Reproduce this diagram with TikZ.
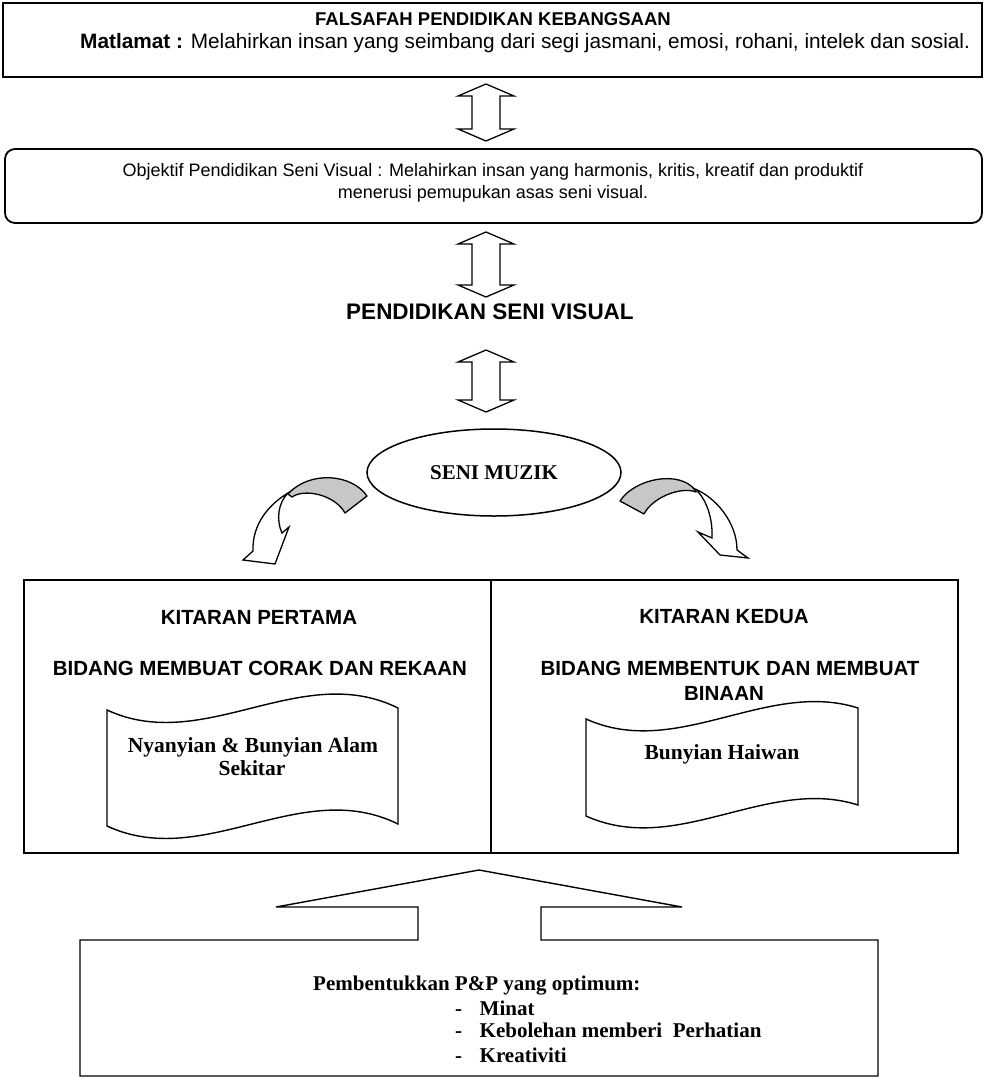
\documentclass[tikz,border=0pt]{standalone}
\usepackage{fontspec}
\setmainfont{Liberation Serif}
\newfontfamily\arialfont{Liberation Sans}
\usetikzlibrary{shapes.geometric,calc}

\tikzset{
    boxFrame/.style={draw=black, line width=1.8pt},
    waveLine/.style={draw=black, line width=1.4pt},
    dblArrow/.style={draw=black, line width=1.3pt, fill=white, line join=miter},
    bandBack/.style={draw=black, line width=1.3pt, fill=black!22, line join=round},
    bandFront/.style={draw=black, line width=1.3pt, fill=white, line join=miter},
    sansBold/.style={font=\arialfont\bfseries\fontsize{#1}{24}\selectfont, inner sep=0pt},
    sansPlain/.style={font=\arialfont\fontsize{#1}{22}\selectfont, inner sep=0pt},
    serifBold/.style={font=\bfseries\fontsize{#1}{23}\selectfont, inner sep=0pt}
}

\begin{document}
\begin{tikzpicture}[x=1pt, y=-1pt]
\useasboundingbox (0,0) rectangle (986,1079);

% falsafah box
\node[boxFrame, minimum width=979pt, minimum height=74pt] (fpk) at (492.5,40) {};
\node[sansBold=18.5] (fpkTitle) at (493,19) {FALSAFAH PENDIDIKAN KEBANGSAAN};
\node[sansPlain=20.8, anchor=base west] (fpkAim) at (80,48) {\textbf{Matlamat :} Melahirkan insan yang seimbang dari segi jasmani, emosi, rohani, intelek dan sosial.};

% objektif box
\node[boxFrame, rounded corners=10pt, minimum width=977pt, minimum height=74pt] (obj) at (493.5,186) {};
\node[sansPlain=18, align=center] (objText) at (493,183) {Objektif Pendidikan Seni Visual : Melahirkan insan yang harmonis, kritis, kreatif dan produktif\\ menerusi pemupukan asas seni visual.};

% double block arrows
\foreach \ya/\yb in {84/141, 232/297, 350/412}{
  \draw[dblArrow] (486,\ya) -- (514,{\ya+12}) -- (500,{\ya+12}) -- (500,{\yb-12}) -- (514,{\yb-12})
    -- (486,\yb) -- (458,{\yb-12}) -- (472,{\yb-12}) -- (472,{\ya+12}) -- (458,{\ya+12}) -- cycle;
}

\node[sansBold=22.5] (psv) at (490,312) {PENDIDIKAN SENI VISUAL};

% seni muzik
\node[ellipse, draw, line width=1.5pt, minimum width=254pt, minimum height=87pt, serifBold=21] (muzik) at (494,472.5) {SENI MUZIK};

% curved arrow left
\draw[bandBack] (367,496) .. controls (352,474) and (310,470) .. (288,494) -- (292,497) .. controls (305,488) and (335,495) .. (345,513) -- cycle;
\draw[bandFront] (288,493) .. controls (268,505) and (252,525) .. (253,551) -- (243,560) -- (275,564) -- (289,527) -- (282,533) .. controls (276,520) and (278,503) .. (288,493) -- cycle;
% curved arrow right
\draw[bandBack] (620,501) .. controls (635,478) and (680,470) .. (695,490) -- (696,492) .. controls (680,486) and (652,498) .. (644,514) -- cycle;
\draw[bandFront] (695,489) .. controls (715,497) and (737,522) .. (737,550) -- (748,558) -- (720,555) -- (698,532) -- (712,538) .. controls (713,518) and (706,498) .. (695,489) -- cycle;

% kitaran box
\node[boxFrame, minimum width=934pt, minimum height=273pt] (kitaran) at (491,716.5) {};
\draw[boxFrame] (kitaran.north) -- (kitaran.south);
\node[sansBold=20.5] (k1) at (259,617) {KITARAN PERTAMA};
\node[sansBold=20.5] (k1b) at (260,668) {BIDANG MEMBUAT CORAK DAN REKAAN};
\node[sansBold=20.5] (k2) at (724,617) {KITARAN KEDUA};
\node[sansBold=20.5] (k2b) at (730,668) {BIDANG MEMBENTUK DAN MEMBUAT};
\node[sansBold=20.5] (k2c) at (724,693) {BINAAN};

% wave scrolls
\draw[waveLine] (107,710) .. controls (204,755) and (301,660) .. (398,708) -- (398,824)
  .. controls (301,776) and (204,871) .. (107,826) -- cycle;
\node[serifBold=21.5] (s1a) at (253,747) {Nyanyian \& Bunyian Alam};
\node[serifBold=21.5] (s1b) at (252,768) {Sekitar};
\draw[waveLine] (586,719) .. controls (677,760) and (767,679) .. (858,708) -- (858,805)
  .. controls (767,776) and (677,857) .. (586,816) -- cycle;
\node[serifBold=21.5] (s2) at (722,754) {Bunyian Haiwan};

% callout box
\draw[waveLine] (479,870) -- (682,907) -- (541,907) -- (541,940) -- (878,940) -- (878,1076)
  -- (80,1076) -- (80,940) -- (418,940) -- (418,907) -- (276,907) -- cycle;
\node[serifBold=21, anchor=base west] (pp) at (313,990) {Pembentukkan P\&P yang optimum:};
\foreach \i/\txt/\y in {1/Minat/1015, 2/{Kebolehan memberi~ Perhatian}/1037, 3/Kreativiti/1062}{
  \node[serifBold=21, anchor=base west] (dash\i) at (455,\y) {-};
  \node[serifBold=21, anchor=base west] (item\i) at (479.5,\y) {\txt};
}
\end{tikzpicture}
\end{document}
